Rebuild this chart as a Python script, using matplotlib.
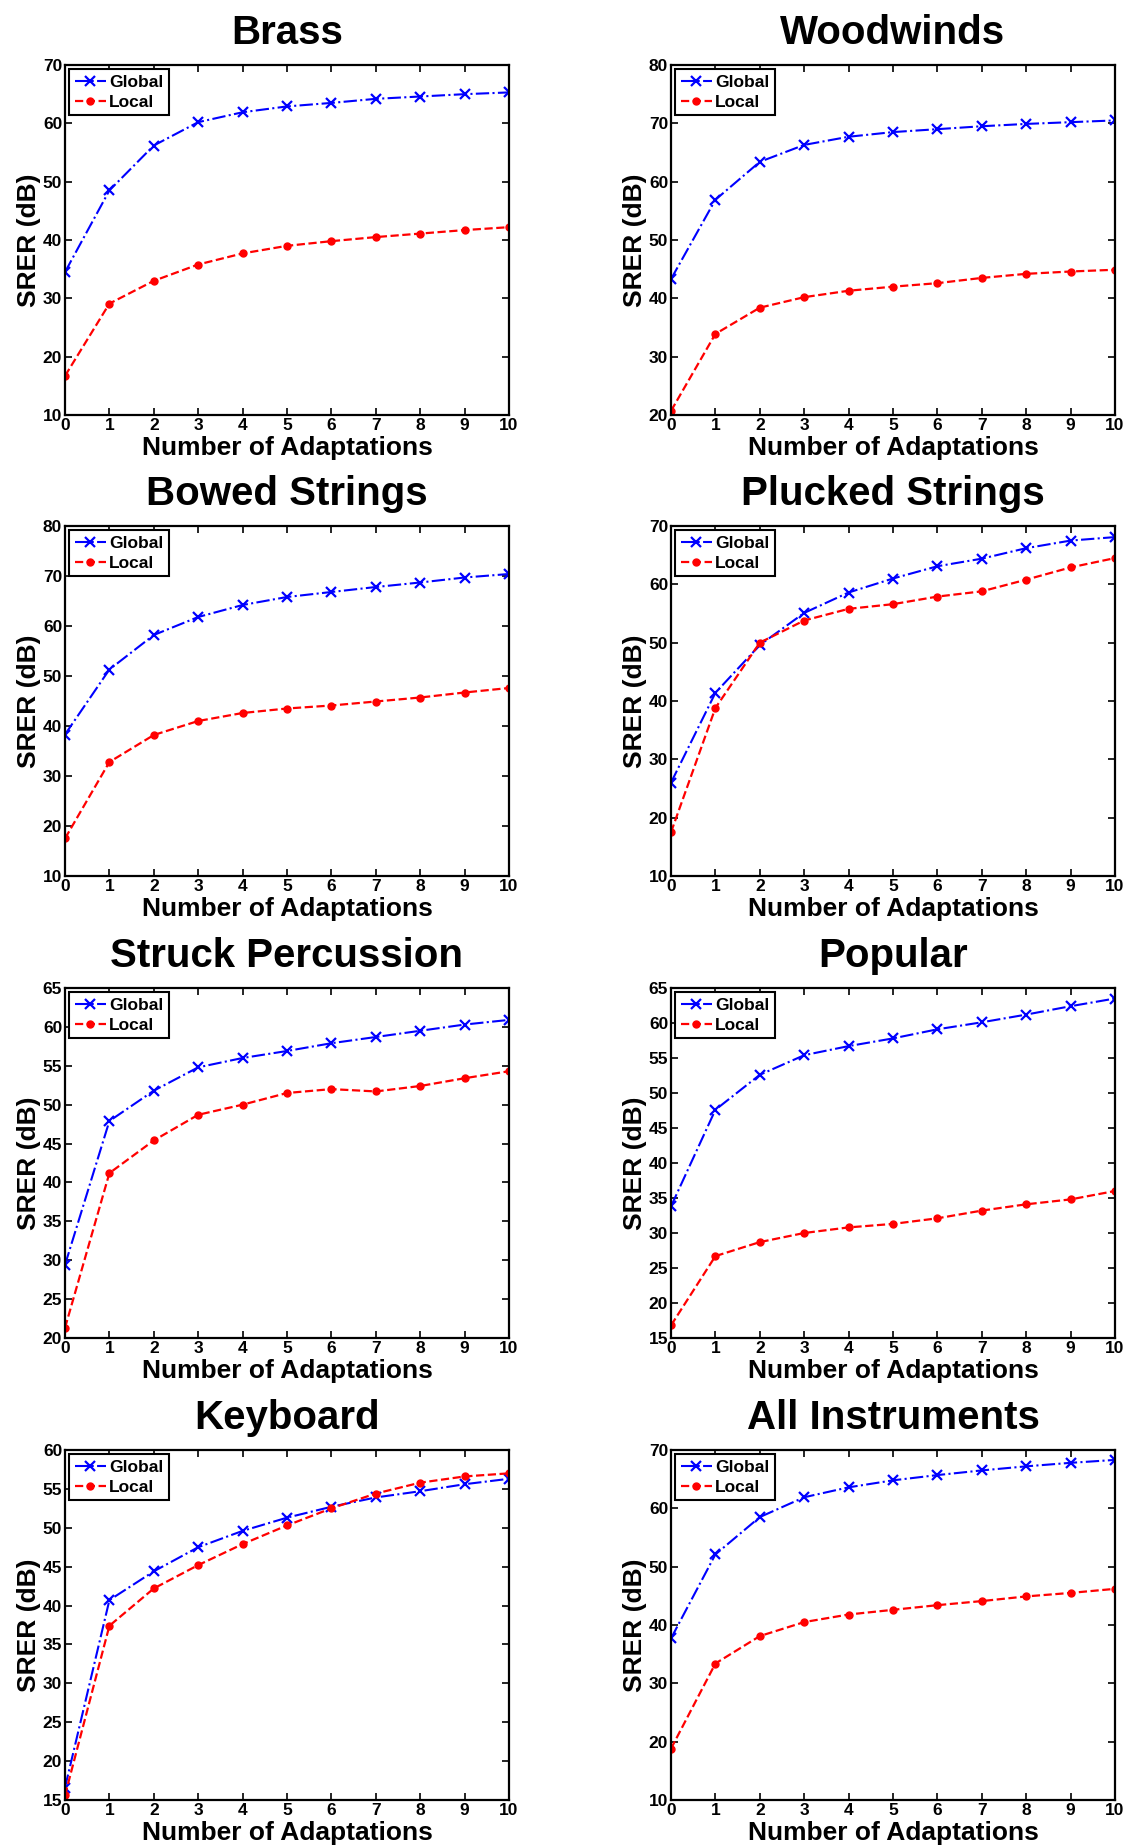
import matplotlib
matplotlib.use("Agg")
import matplotlib.pyplot as plt

plt.rcParams['font.family'] = ['Liberation Sans', 'DejaVu Sans']
plt.rcParams['font.weight'] = 'bold'

# adaptation steps
adaptations = [0, 1, 2, 3, 4, 5, 6, 7, 8, 9, 10]

titles = ['Brass', 'Woodwinds', 'Bowed Strings', 'Plucked Strings',
          'Struck Percussion', 'Popular', 'Keyboard', 'All Instruments']

brass_global = [34.5, 48.5, 56.2, 60.2, 61.9, 62.9, 63.5, 64.2, 64.6, 65.0, 65.3]
brass_local = [16.7, 29.1, 33.0, 35.8, 37.7, 39.0, 39.8, 40.5, 41.1, 41.7, 42.2]

woodwinds_global = [43.3, 56.9, 63.4, 66.3, 67.7, 68.5, 69.0, 69.5, 69.9, 70.2, 70.5]
woodwinds_local = [20.7, 33.9, 38.4, 40.2, 41.3, 42.0, 42.6, 43.5, 44.2, 44.6, 44.9]

bowed_global = [38.3, 51.3, 58.2, 61.8, 64.2, 65.8, 66.8, 67.8, 68.7, 69.7, 70.4]
bowed_local = [17.5, 32.8, 38.2, 41.0, 42.6, 43.5, 44.1, 44.9, 45.7, 46.7, 47.6]

plucked_global = [26.0, 41.4, 49.6, 55.1, 58.6, 61.0, 63.1, 64.4, 66.2, 67.5, 68.1]
plucked_local = [17.5, 38.8, 50.0, 53.8, 55.8, 56.6, 57.9, 58.8, 60.8, 62.9, 64.5]

struck_global = [29.4, 47.9, 51.8, 54.8, 56.0, 56.9, 57.9, 58.7, 59.5, 60.3, 60.9]
struck_local = [21.3, 41.2, 45.4, 48.7, 50.0, 51.5, 52.0, 51.7, 52.4, 53.4, 54.3]

popular_global = [33.8, 47.6, 52.6, 55.4, 56.7, 57.8, 59.1, 60.1, 61.2, 62.4, 63.5]
popular_local = [16.8, 26.7, 28.7, 30.0, 30.8, 31.3, 32.1, 33.2, 34.1, 34.8, 36.0]

keyboard_global = [16.6, 40.7, 44.4, 47.5, 49.6, 51.3, 52.7, 53.9, 54.7, 55.6, 56.3]
keyboard_local = [15.6, 37.4, 42.2, 45.2, 47.9, 50.3, 52.5, 54.4, 55.8, 56.6, 57.0]

all_global = [37.7, 52.1, 58.5, 61.9, 63.6, 64.8, 65.7, 66.5, 67.2, 67.8, 68.3]
all_local = [18.8, 33.4, 38.1, 40.5, 41.8, 42.6, 43.4, 44.1, 44.9, 45.5, 46.2]

global_series = [brass_global, woodwinds_global, bowed_global, plucked_global,
                 struck_global, popular_global, keyboard_global, all_global]
local_series = [brass_local, woodwinds_local, bowed_local, plucked_local,
                struck_local, popular_local, keyboard_local, all_local]

# y limits and tick step of each panel
y_limits = [(10, 70), (20, 80), (10, 80), (10, 70), (20, 65), (15, 65), (15, 60), (10, 70)]
y_steps = [10, 10, 10, 10, 5, 5, 5, 10]

W, H = 1127, 1847
fig = plt.figure(figsize=(W / 100, H / 100), dpi=100)

col_left = [65, 671]
row_top = [65, 526, 988, 1450]
ax_w, ax_h = 444, 350

for i in range(8):
    r, c = divmod(i, 2)
    ax = fig.add_axes([col_left[c] / W, 1 - (row_top[r] + ax_h) / H, ax_w / W, ax_h / H])
    ax.plot(adaptations, global_series[i], color='blue', linestyle='-.', marker='x',
            markersize=7, markeredgewidth=1.6, linewidth=1.5, label='Global')
    ax.plot(adaptations, local_series[i], color='red', linestyle='--', marker='o',
            markersize=5, linewidth=1.6, label='Local')
    lo, hi = y_limits[i]
    ax.set_xlim(0, 10)
    ax.set_ylim(lo, hi)
    ax.set_xticks(adaptations)
    ax.set_yticks(list(range(lo, hi + 1, y_steps[i])))
    ax.tick_params(direction='in', length=5, width=1.2, top=True, right=True,
                   labelsize=12.5, pad=2)
    for s in ax.spines.values():
        s.set_linewidth(1.6)
    ax.set_title(titles[i], fontsize=29, fontweight='bold', pad=15)
    ax.set_xlabel('Number of Adaptations', fontsize=19, fontweight='bold', labelpad=2)
    ax.set_ylabel('SRER (dB)', fontsize=19, fontweight='bold', labelpad=1)
    leg = ax.legend(loc='upper left', fontsize=12.5, fancybox=False, framealpha=1,
                    edgecolor='black', borderaxespad=0.25, borderpad=0.3,
                    handlelength=1.8, handletextpad=0.2, labelspacing=0.3)
    leg.get_frame().set_linewidth(1.5)

fig.savefig('out.png', dpi=100)
